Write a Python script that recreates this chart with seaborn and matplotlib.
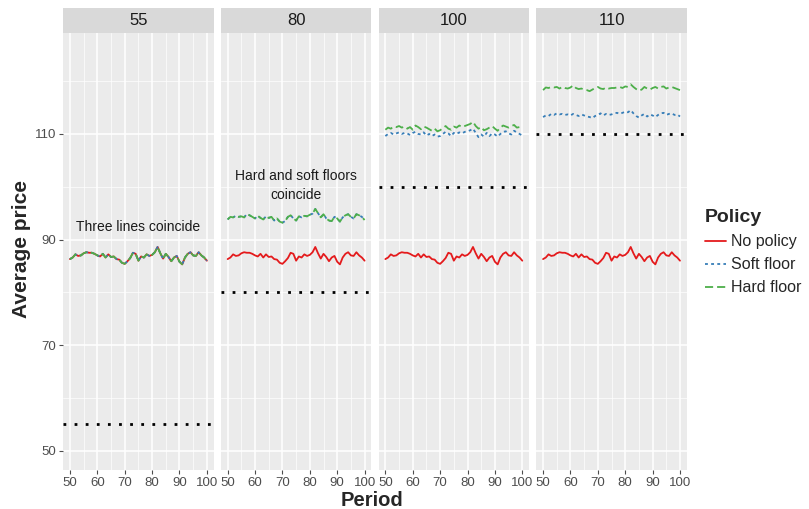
import numpy as np
import pandas as pd
import seaborn as sns
import matplotlib
matplotlib.use("Agg")
import matplotlib.pyplot as plt
from matplotlib.patches import Rectangle
from matplotlib.lines import Line2D
from matplotlib.ticker import MultipleLocator

# ---------------- data ----------------
periods = list(range(50, 101))
floors = [55, 80, 100, 110]
policies = ["No policy", "Soft floor", "Hard floor"]

no_policy = [86.3, 86.6, 87.2, 86.9, 87.0, 87.4, 87.6, 87.5, 87.5, 87.3,
             87.0, 86.8, 87.3, 86.6, 87.2, 86.7, 86.8, 86.3, 86.2, 85.6,
             85.4, 85.9, 86.5, 87.5, 87.3, 86.0, 86.8, 86.6, 87.2, 86.9,
             87.1, 87.6, 88.6, 87.4, 86.4, 87.3, 86.7, 85.9, 86.6, 86.9,
             85.8, 85.3, 86.6, 87.3, 87.6, 87.0, 86.9, 87.6, 87.0, 86.6,
             86.0]

hard_80 = [93.8, 94.3, 94.2, 94.5, 94.3, 94.4, 94.2, 94.8, 94.6, 94.3,
           94.0, 94.5, 94.1, 93.8, 94.4, 94.1, 94.3, 93.6, 94.0, 93.4,
           93.2, 93.5, 94.3, 94.6, 94.0, 93.6, 94.4, 94.2, 94.5, 94.4,
           94.7, 94.9, 95.8, 95.0, 94.2, 94.8, 94.0, 93.6, 93.5, 94.3,
           94.0, 93.4, 94.2, 94.6, 94.8, 94.3, 94.0, 94.8, 94.6, 94.3,
           93.7]
soft_80 = list(hard_80)

hard_100 = [110.8, 111.2, 111.0, 111.4, 111.3, 111.5, 111.2, 111.4, 111.0, 111.3,
            110.8, 111.6, 111.3, 110.9, 111.4, 111.2, 110.9, 110.6, 111.0, 110.5,
            110.7, 111.1, 111.5, 111.0, 110.8, 111.4, 111.2, 111.6, 111.3, 111.5,
            111.7, 111.9, 112.3, 111.5, 111.0, 111.3, 110.7, 110.9, 111.2, 111.5,
            111.0, 110.6, 111.2, 111.6, 111.4, 111.2, 111.5, 111.7, 111.2, 111.3,
            110.9]
soft_100 = [109.6, 110.0, 110.2, 109.9, 110.1, 110.3, 110.0, 110.2, 110.1, 109.8,
            110.2, 110.4, 110.0, 109.9, 110.3, 109.7, 110.0, 109.6, 109.9, 109.5,
            109.6, 110.0, 110.4, 110.1, 109.6, 110.2, 110.0, 110.3, 110.1, 110.4,
            110.5, 110.7, 111.0, 110.2, 109.4, 109.9, 109.5, 110.2, 109.6, 110.1,
            109.9, 109.5, 110.0, 110.4, 110.5, 110.1, 109.9, 110.6, 110.3, 110.0,
            109.7]

hard_110 = [118.3, 118.8, 118.7, 118.9, 118.8, 118.9, 118.6, 118.9, 118.7, 118.6,
            118.8, 119.2, 118.7, 118.5, 118.6, 118.4, 118.3, 118.1, 118.4, 118.7,
            118.9, 118.6, 118.5, 118.8, 118.6, 118.7, 118.7, 118.8, 118.9, 118.7,
            119.0, 118.9, 119.4, 118.9, 118.5, 118.2, 118.4, 118.9, 118.6, 118.4,
            118.7, 118.9, 118.6, 118.9, 119.0, 118.6, 118.8, 118.9, 118.7, 118.5,
            118.3]
soft_110 = [113.2, 113.5, 113.4, 113.8, 113.6, 113.9, 113.7, 113.8, 113.6, 113.7,
            113.5, 113.8, 113.6, 113.4, 113.7, 113.5, 113.3, 113.2, 113.0, 113.4,
            113.6, 113.9, 113.5, 113.8, 113.6, 113.7, 113.9, 114.0, 113.8, 114.0,
            114.2, 114.1, 114.5, 113.9, 113.4, 113.1, 113.5, 113.8, 113.3, 113.7,
            113.5, 113.2, 113.6, 113.9, 114.0, 113.6, 113.8, 113.9, 113.6, 113.7,
            113.3]

series = {
    55: {"No policy": no_policy, "Soft floor": no_policy, "Hard floor": no_policy},
    80: {"No policy": no_policy, "Soft floor": soft_80, "Hard floor": hard_80},
    100: {"No policy": no_policy, "Soft floor": soft_100, "Hard floor": hard_100},
    110: {"No policy": no_policy, "Soft floor": soft_110, "Hard floor": hard_110},
}
rows = []
for f in floors:
    for p in policies:
        for t, v in zip(periods, series[f][p]):
            rows.append({"Floor": f, "Policy": p, "Period": t, "Average price": v})
df = pd.DataFrame(rows)

# ---------------- style ----------------
sns.set_theme(style="darkgrid")
plt.rcParams["font.family"] = ["Liberation Sans", "DejaVu Sans"]
plt.rcParams["axes.facecolor"] = "#EBEBEB"
plt.rcParams["grid.color"] = "white"

colors = {"No policy": "#E41A1C", "Soft floor": "#377EB8", "Hard floor": "#4DAF4A"}
dashes = {"No policy": "", "Soft floor": (1.6, 1.8), "Hard floor": (4.5, 2.2)}

g = sns.relplot(data=df, x="Period", y="Average price", col="Floor", hue="Policy",
                style="Policy", hue_order=policies, style_order=policies,
                palette=colors, dashes=dashes, kind="line", legend=False,
                col_order=floors, linewidth=1.3, height=4, aspect=0.5,
                facet_kws={"sharey": True, "sharex": True})

fig = g.figure
fig.set_size_inches(8.09, 5.09)
fig.set_dpi(100)
fig.subplots_adjust(left=0.078, right=0.849, top=0.935, bottom=0.077, wspace=0.047)

ymin, ymax = 46.4, 129.1
strip_h = 25 / 437
for ax, f in zip(g.axes.flat, floors):
    ax.set_xlim(47.5, 102.5)
    ax.set_ylim(ymin, ymax)
    ax.set_facecolor("#EBEBEB")
    ax.xaxis.set_major_locator(MultipleLocator(10))
    ax.xaxis.set_minor_locator(MultipleLocator(5))
    ax.set_yticks([50, 70, 90, 110])
    ax.set_yticks([60, 80, 100, 120], minor=True)
    ax.grid(which="major", color="white", linewidth=1.1)
    ax.grid(which="minor", color="white", linewidth=0.5)
    ax.set_axisbelow(True)
    for s in ax.spines.values():
        s.set_visible(False)
    ax.axhline(f, color="black", linestyle=(0, (1, 3)), linewidth=2.0,
               dash_capstyle="butt", zorder=1.5)
    ax.set_title("")
    ax.set_xlabel("")
    ax.set_ylabel("")
    ax.tick_params(axis="both", which="major", labelsize=9.5, colors="#4D4D4D",
                   length=3, width=0.8, pad=2, labelcolor="#4D4D4D")
    ax.tick_params(axis="y", left=True)
    ax.tick_params(axis="x", bottom=True)
    ax.tick_params(which="minor", length=0)
    ax.add_patch(Rectangle((0, 1), 1, strip_h, transform=ax.transAxes,
                           facecolor="#D9D9D9", edgecolor="none", clip_on=False))
    ax.text(0.5, 1 + strip_h / 2, str(f), transform=ax.transAxes,
            ha="center", va="center", fontsize=12, color="#1A1A1A")

for ax in g.axes.flat[1:]:
    ax.tick_params(axis="y", left=False, labelleft=False)

a0, a1 = g.axes.flat[0], g.axes.flat[1]
a0.text(75, 92.4, "Three lines coincide", ha="center", va="center",
        fontsize=10, color="#1A1A1A")
a1.text(75, 100.2, "Hard and soft floors\ncoincide", ha="center", va="center",
        fontsize=10, color="#1A1A1A", linespacing=1.5)

fig.text(0.46, 0.017, "Period", ha="center", va="center", fontsize=14.5,
         fontweight="bold")
fig.text(0.027, 0.51, "Average price", ha="center", va="center", fontsize=15,
         fontweight="bold", rotation=90)

handles = [Line2D([0], [0], color=colors[p], linewidth=1.3,
                  dashes=dashes[p] if dashes[p] else (None, None)) for p in policies]
handles[0].set_linestyle("-")
leg = fig.legend(handles, policies, title="Policy", loc="upper left",
                 bbox_to_anchor=(0.871, 0.589), frameon=False, fontsize=11.5,
                 title_fontsize=14, handlelength=1.35, handletextpad=0.3,
                 labelspacing=0.5, borderaxespad=0, borderpad=0)
leg.get_title().set_fontweight("bold")
leg._legend_box.align = "left"

fig.savefig("out.png", dpi=100)
